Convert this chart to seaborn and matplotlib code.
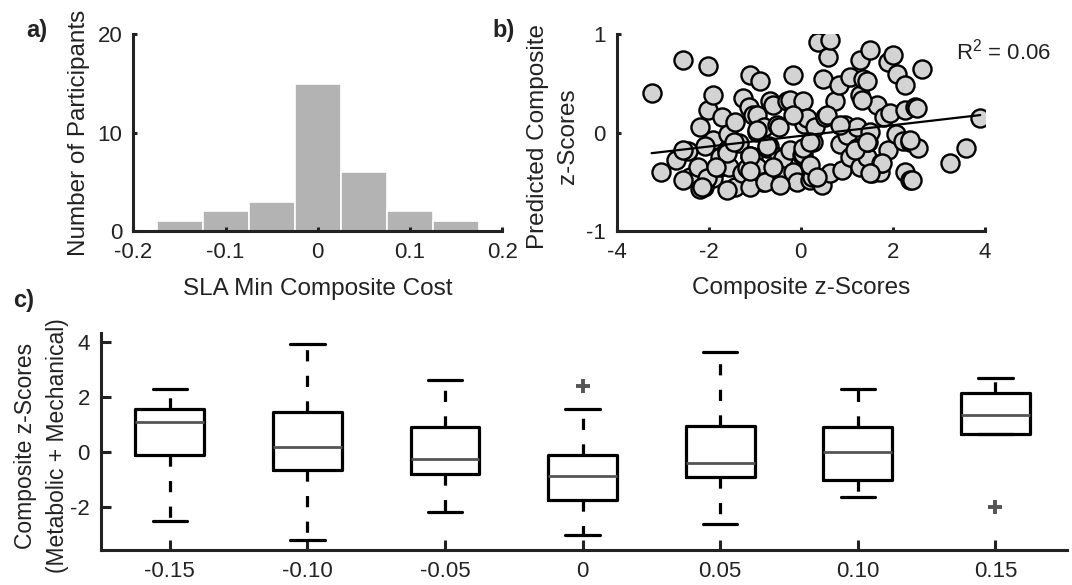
import numpy as np
import pandas as pd
import seaborn as sns
import matplotlib
matplotlib.use("Agg")
import matplotlib.pyplot as plt

# a) histogram of SLA min composite cost
bin_centers = [-0.15, -0.10, -0.05, 0.0, 0.05, 0.10, 0.15]
n_participants = [1, 2, 3, 15, 6, 2, 1]

# b) predicted vs observed composite z-scores
comp_z = [-3.24, -3.04, -2.55, -2.02, -2.70, -2.44, -2.41, -2.19, -2.19, -2.23,
          -2.01, -1.90, -1.90, -1.90, -2.07, -2.11, -1.75, -1.75, -1.71, -1.61,
          -1.55, -1.59, -1.43, -1.43, -1.35, -1.27, -1.25, -1.17, -1.12, -1.10,
          -1.10, -1.04, -1.03, -0.96, -0.96, -0.96, -0.88, -0.81, -0.80, -0.74,
          -0.67, -0.68, -0.60, -0.56, -0.52, -0.52, -0.48, -0.48, -0.48, -0.38,
          -0.30, -0.24, -0.24, -0.16, -0.16, -0.08, 0.02, 0.06, 0.06, 0.08,
          0.13, 0.20, 0.24, 0.27, 0.32, 0.38, 0.46, 0.49, 0.53, 0.60,
          0.64, 0.64, 0.74, 0.84, 0.85, 0.89, 0.96, 1.00, 1.07, 1.08,
          1.22, 1.22, 1.29, 1.29, 1.29, 1.36, 1.43, 1.43, 1.47, 1.51,
          1.51, 1.55, 1.65, 1.72, 1.75, 1.80, 1.90, 1.90, 1.95, 2.01,
          2.07, 2.09, 2.23, 2.27, 2.27, 2.27, 2.37, 2.37, 2.48, 2.55,
          2.63, 3.24, 3.60, 3.90,
          -2.55, -2.55, -2.04, -2.15, -1.61, -1.10, -0.78, -0.45, -1.61, -1.10,
          -1.46, -0.74, -0.96, -0.16, 0.06, -1.83, -1.10, -0.60, 2.37, 2.41,
          1.76, 1.51, 1.18, 1.43, 0.20, 0.20, 0.56, 0.85, 2.52, 1.33, 0.36]
pred_z = [0.40, -0.40, 0.74, 0.68, -0.28, -0.19, -0.45, -0.57, 0.06, -0.35,
          0.23, 0.38, -0.07, -0.46, -0.14, -0.55, -0.35, -0.25, 0.16, -0.18,
          -0.35, -0.01, 0.11, -0.55, -0.11, -0.41, 0.35, -0.36, 0.26, 0.59,
          -0.24, -0.25, 0.18, 0.01, -0.35, 0.18, 0.53, -0.50, 0.06, -0.16,
          0.32, -0.14, 0.28, -0.46, 0.08, -0.33, 0.06, -0.41, -0.25, -0.26,
          0.32, 0.33, -0.18, 0.59, -0.40, -0.50, -0.23, 0.32, -0.22, 0.09,
          0.15, -0.48, -0.45, -0.09, 0.06, 0.92, -0.53, 0.55, 0.16, 0.77,
          0.94, -0.41, 0.32, 0.48, -0.12, -0.38, 0.08, -0.02, 0.57, -0.25,
          0.06, -0.16, 0.74, 0.38, -0.35, 0.55, -0.25, 0.53, -0.09, 0.84,
          0.01, -0.41, 0.28, -0.40, -0.31, 0.16, 0.72, -0.18, 0.20, 0.79,
          -0.01, 0.60, -0.08, 0.48, 0.23, -0.40, -0.09, -0.48, 0.26, -0.16,
          0.65, -0.31, -0.16, 0.15,
          -0.18, -0.48, -0.46, -0.55, -0.58, -0.55, -0.50, -0.53, -0.21, -0.24,
          -0.09, -0.14, 0.03, 0.18, -0.16, -0.35, -0.39, -0.35, -0.07, -0.48,
          -0.31, -0.41, -0.18, -0.09, -0.33, -0.09, 0.18, 0.08, 0.25, 0.33, -0.45]
r2_text = "R$^\\mathregular{2}$ = 0.06"

# c) composite z-scores grouped by SLA cost
cost_labels = ["-0.15", "-0.10", "-0.05", "0", "0.05", "0.10", "0.15"]
z_m15 = [-2.52, -0.11, -0.11, 1.08, 1.08, 1.08, 1.58, 1.58, 2.30]
z_m10 = [-3.22, -0.67, -0.67, 0.18, 0.18, 0.18, 1.47, 1.47, 3.94]
z_m05 = [-2.19, -0.81, -0.81, -0.27, -0.27, -0.27, 0.92, 0.92, 2.61]
z_0 = [-3.04, -1.74, -1.74, -0.86, -0.86, -0.86, -0.10, 1.58, 2.40]
z_p05 = [-2.61, -0.92, -0.92, -0.41, -0.41, -0.41, 0.96, 0.96, 3.64]
z_p10 = [-1.64, -1.01, -1.01, 0.01, 0.01, 0.01, 0.90, 0.90, 2.30]
z_p15 = [-2.02, 0.67, 0.67, 1.36, 1.36, 1.36, 2.14, 2.14, 2.69]

groups = [z_m15, z_m10, z_m05, z_0, z_p05, z_p10, z_p15]
df_box = pd.DataFrame({
    "cost": np.concatenate([[lab] * len(g) for lab, g in zip(cost_labels, groups)]),
    "z": np.concatenate(groups),
})

sns.set_theme(style="white")
ink = "#222222"
plt.rcParams.update({
    "font.family": ["Liberation Sans", "DejaVu Sans"],
    "axes.unicode_minus": False,
    "xtick.direction": "in",
    "ytick.direction": "in",
    "xtick.bottom": True,
    "ytick.left": True,
    "axes.linewidth": 2.2,
    "axes.edgecolor": ink,
    "text.color": ink,
    "axes.labelcolor": ink,
    "xtick.color": ink,
    "ytick.color": ink,
})

fig = plt.figure(figsize=(10.72, 5.85), dpi=100)
ax_a = fig.add_axes([0.1245, 0.6051, 0.3439, 0.3362])
ax_b = fig.add_axes([0.5752, 0.6051, 0.3435, 0.3362])
ax_c = fig.add_axes([0.0942, 0.0598, 0.9011, 0.3709])

# a
sns.histplot(x=bin_centers, weights=n_participants, binwidth=0.05, binrange=(-0.175, 0.175),
             color="#b3b3b3", edgecolor="white", linewidth=1.2, alpha=1, ax=ax_a)
ax_a.set_xlim(-0.2, 0.2)
ax_a.set_ylim(0, 20)
ax_a.set_xticks([-0.2, -0.1, 0, 0.1, 0.2], ["-0.2", "-0.1", "0", "0.1", "0.2"])
ax_a.set_yticks([0, 10, 20], ["0", "10", "20"])
ax_a.set_xlabel("SLA Min Composite Cost", fontsize=17.5, va="center")
ax_a.set_ylabel("Number of Participants", fontsize=17.5, va="center")
ax_a.xaxis.set_label_coords(0.5, -0.295)
ax_a.yaxis.set_label_coords(-0.148, 0.5)

# b
sns.regplot(x=comp_z, y=pred_z, ci=None, color="#d3d3d3", ax=ax_b,
            scatter_kws=dict(s=170, edgecolor="black", linewidths=1.7, alpha=1),
            line_kws=dict(color="black", lw=1.6))
ax_b.set_xlim(-4, 4)
ax_b.set_ylim(-1, 1)
ax_b.set_xticks([-4, -2, 0, 2, 4], ["-4", "-2", "0", "2", "4"])
ax_b.set_yticks([-1, 0, 1], ["-1", "0", "1"])
ax_b.set_xlabel("Composite z-Scores", fontsize=17.5, va="center")
ax_b.set_ylabel("Predicted Composite\nz-Scores", fontsize=17.5, va="center", linespacing=1.45)
ax_b.xaxis.set_label_coords(0.5, -0.29)
ax_b.yaxis.set_label_coords(-0.173, 0.48)
ax_b.text(3.38, 0.83, r2_text, fontsize=16, ha="left", va="center", clip_on=False)

for ax in (ax_a, ax_b):
    sns.despine(ax=ax)
    ax.set_axisbelow(False)
    ax.tick_params(labelsize=16, length=2.7, width=2.2, pad=8)

# c
sns.boxplot(data=df_box, x="cost", y="z", order=cost_labels, width=0.5, fill=False,
            color="black", linewidth=2.3, whis=1.5, ax=ax_c,
            medianprops=dict(color="#555555", linewidth=2),
            whiskerprops=dict(linestyle=(0, (3.5, 4.5))),
            flierprops=dict(marker="+", markersize=10, markeredgewidth=2.8,
                            markeredgecolor="#555555"))
ax_c.set_xlim(-0.5, 6.52)
ax_c.set_ylim(-3.57, 4.34)
ax_c.set_yticks([-2, 0, 2, 4], ["-2", "0", "2", "4"])
ax_c.set_xlabel("")
ax_c.set_ylabel("Composite z-Scores\n(Metabolic + Mechanical)", fontsize=16.5,
                va="center", linespacing=1.5)
ax_c.yaxis.set_label_coords(-0.0616, 0.48)
sns.despine(ax=ax_c)
ax_c.tick_params(labelsize=16, length=7, width=2.2, pad=8)

fig.text(36.5 / 1072, 1 - 31 / 585, "a)", fontsize=17, fontweight="bold", ha="center", va="center")
fig.text(503.7 / 1072, 1 - 31 / 585, "b)", fontsize=17, fontweight="bold", ha="center", va="center")
fig.text(23.5 / 1072, 1 - 300 / 585, "c)", fontsize=17, fontweight="bold", ha="center", va="center")

fig.savefig("out.png", dpi=100)
